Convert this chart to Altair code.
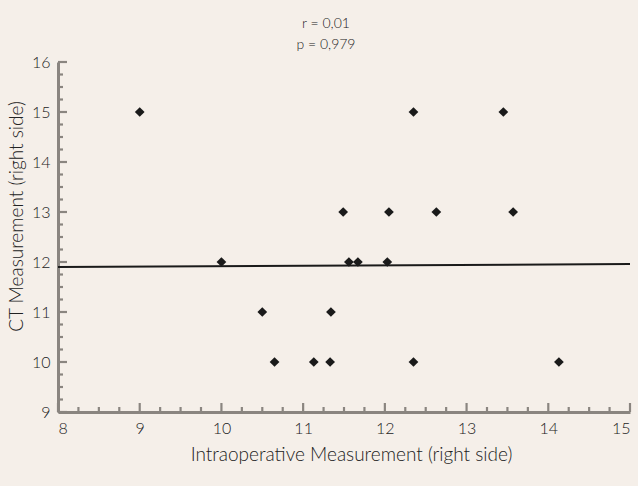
import altair as alt
import pandas as pd

# --- data ---
intraop_x = [9.0, 10.0, 10.5, 10.65, 11.13, 11.33, 11.34, 11.49, 11.56, 11.67,
             12.03, 12.05, 12.35, 12.35, 12.63, 13.45, 13.57, 14.13]
ct_y = [15, 12, 11, 10, 10, 10, 11, 13, 12, 12,
        12, 13, 15, 10, 13, 15, 13, 10]

fit_x = [8, 15]
fit_y = [11.9, 11.96]

x_major_ticks = [8, 9, 10, 11, 12, 13, 14, 15]
x_minor_ticks = [8.25, 8.5, 8.75, 9.25, 9.5, 9.75, 10.25, 10.5, 10.75,
                 11.25, 11.5, 11.75, 12.25, 12.5, 12.75, 13.25, 13.5, 13.75,
                 14.25, 14.5, 14.75]
y_major_ticks = [9, 10, 11, 12, 13, 14, 15, 16]
y_minor_ticks = [9.25, 9.5, 9.75, 10.25, 10.5, 10.75, 11.25, 11.5, 11.75,
                 12.25, 12.5, 12.75, 13.25, 13.5, 13.75, 14.25, 14.5, 14.75,
                 15.25, 15.5, 15.75]

title_lines = ["r = 0,01", "p = 0,979"]
x_title = "Intraoperative Measurement (right side)"
y_title = "CT Measurement (right side)"

# --- styling ---
BG = "#f5efe9"
AXIS_GREY = "#8a8580"
TEXT = "#222222"
FONT = "Lato"
W, H = 572, 350

xs = alt.Scale(domain=[8, 15], nice=False, zero=False)
ys = alt.Scale(domain=[9, 16], nice=False, zero=False)

x_axis = alt.Axis(
    title=x_title, values=x_major_ticks, format="d",
    ticks=False, tickSize=0, grid=False,
    domainColor=AXIS_GREY, domainWidth=3,
    labelFont=FONT, labelFontSize=16, labelColor=TEXT, labelPadding=8,
    labelFontWeight=300,
    titleFont=FONT, titleFontSize=19, titleColor=TEXT, titleFontWeight=300,
    titlePadding=9, titleX=293)
y_axis = alt.Axis(
    title=y_title, values=y_major_ticks, format="d",
    ticks=False, tickSize=0, grid=False,
    domainColor=AXIS_GREY, domainWidth=3,
    labelFont=FONT, labelFontSize=16, labelColor=TEXT, labelPadding=8,
    labelFontWeight=300,
    titleFont=FONT, titleFontSize=19, titleColor=TEXT, titleFontWeight=300,
    titlePadding=5, titleY=154)

pts = pd.DataFrame({"x": intraop_x, "y": ct_y})
fit = pd.DataFrame({"x": fit_x, "y": fit_y})

points = alt.Chart(pts).mark_point(
    shape="diamond", filled=True, color="#1a1a1a", size=95, opacity=1
).encode(
    x=alt.X("x:Q", scale=xs, axis=x_axis),
    y=alt.Y("y:Q", scale=ys, axis=y_axis),
)

line = alt.Chart(fit).mark_line(color="#1a1a1a", strokeWidth=2).encode(
    x=alt.X("x:Q", scale=xs, axis=x_axis),
    y=alt.Y("y:Q", scale=ys, axis=y_axis),
)

def xticks(vals, length):
    return alt.Chart(pd.DataFrame({"v": vals})).mark_rule(
        color=AXIS_GREY, strokeWidth=2.2, opacity=1
    ).encode(
        x=alt.X("v:Q", scale=xs, axis=x_axis),
        y=alt.value(H), y2=alt.value(H - length),
    )

def yticks(vals, length):
    return alt.Chart(pd.DataFrame({"v": vals})).mark_rule(
        color=AXIS_GREY, strokeWidth=2.2, opacity=1
    ).encode(
        y=alt.Y("v:Q", scale=ys, axis=y_axis),
        x=alt.value(0), x2=alt.value(length),
    )

chart = alt.layer(
    xticks(x_major_ticks, 9), xticks(x_minor_ticks, 5),
    yticks(y_major_ticks, 9), yticks(y_minor_ticks, 5),
    line, points,
).properties(
    width=W, height=H,
    title=alt.Title(title_lines, font=FONT, fontSize=14, fontWeight=300,
                    color=TEXT, anchor="middle", frame="group", dx=-18,
                    lineHeight=21, offset=2),
    autosize=alt.AutoSizeParams(type="none"),
    padding={"left": 58, "top": 62, "right": 8, "bottom": 74},
    background=BG,
).configure_view(stroke=None)

chart.save("out.html", embed_options={"renderer": "svg", "actions": False})
